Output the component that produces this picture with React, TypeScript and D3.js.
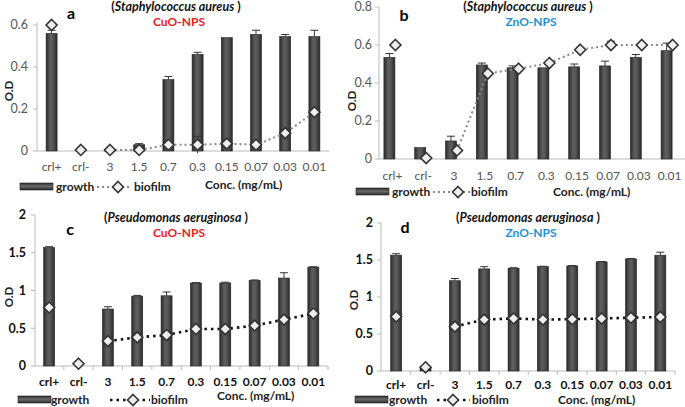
import React from "react";
import * as d3 from "d3";

const categories = ["crl+", "crl-", "3", "1.5", "0.7", "0.3", "0.15", "0.07", "0.03", "0.01"];

// Panel a: S. aureus, CuO-NPS
const aGrowth = [0.56, 0, 0.005, 0.03, 0.34, 0.46, 0.54, 0.555, 0.545, 0.545];
const aGrowthErr = [0.015, 0, 0, 0.005, 0.015, 0.01, 0.003, 0.02, 0.01, 0.03];
const aBiofilm = [0.6, 0.005, 0.005, 0.005, 0.03, 0.03, 0.035, 0.03, 0.085, 0.185];
const aBiofilmErr = [0, 0, 0, 0, 0, 0.04, 0, 0, 0.015, 0];

// Panel b: S. aureus, ZnO-NPS
const bGrowth = [0.535, 0.06, 0.095, 0.495, 0.48, 0.48, 0.485, 0.49, 0.535, 0.57];
const bGrowthErr = [0.02, 0.002, 0.025, 0.01, 0.01, 0.002, 0.015, 0.025, 0.015, 0.04];
const bBiofilm = [0.6, 0.005, 0.045, 0.45, 0.475, 0.505, 0.575, 0.6, 0.6, 0.6];
const bBiofilmErr = [0, 0, 0, 0, 0, 0, 0, 0.02, 0, 0];

// Panel c: P. aeruginosa, CuO-NPS
const cGrowth = [1.57, 0, 0.755, 0.925, 0.93, 1.1, 1.1, 1.135, 1.165, 1.31];
const cGrowthErr = [0.01, 0, 0.03, 0.01, 0.05, 0.005, 0.01, 0.005, 0.07, 0.005];
const cBiofilm = [0.775, 0.03, 0.33, 0.38, 0.41, 0.49, 0.49, 0.535, 0.615, 0.695];
const cBiofilmErr = [0, 0, 0, 0, 0, 0, 0, 0, 0, 0];

// Panel d: P. aeruginosa, ZnO-NPS
const dGrowth = [1.565, 0.04, 1.22, 1.38, 1.39, 1.41, 1.42, 1.475, 1.515, 1.565];
const dGrowthErr = [0.02, 0, 0.03, 0.03, 0.005, 0.005, 0.005, 0.005, 0.005, 0.04];
const dBiofilm = [0.735, 0.05, 0.6, 0.695, 0.71, 0.695, 0.7, 0.71, 0.72, 0.73];
const dBiofilmErr = [0, 0, 0, 0, 0, 0, 0, 0, 0, 0];

const yTicksS = [0, 0.2, 0.4, 0.6];
const yTicksB = [0, 0.2, 0.4, 0.6, 0.8];
const yTicksP = [0, 0.5, 1, 1.5, 2];

const FONT = "Lato, 'Open Sans', 'Liberation Sans', sans-serif";

type Cfg = {
  id: string;
  letter: string;
  organism: string;
  np: string;
  npColor: string;
  growth: number[];
  growthErr: number[];
  biofilm: number[];
  biofilmErr: number[];
  yMax: number;
  yTicks: number[];
  xRange: [number, number];
  axisX: number;
  yRange: [number, number];
  axisTop: number;
  barOff: number;
  dotOff: number;
  tickLabelY: number;
  tickLabelRight: number;
  boldTicks: boolean;
  lineColor: string;
  lineWidth: number;
  dash: string;
  titleX: number;
  titleY: number;
  npY: number;
  letterX: number;
  letterY: number;
  odX: number;
  odY: number;
  legY: number;
  swX: number;
  growthX: number;
  dotsX: [number, number];
  diaX: number;
  biofilmX: number;
  concX: number;
  concY: number;
  xTicks: boolean;
  fmt: (v: number) => string;
};

function Panel({ c }: { c: Cfg }) {
  const x = d3.scaleBand<string>().domain(categories).range(c.xRange).padding(0);
  const y = d3.scaleLinear().domain([0, c.yMax]).range(c.yRange);
  const bw = 11;
  const cx = (i: number) => (x(categories[i]) as number) + x.bandwidth() / 2;
  const lineIdx = d3.range(2, categories.length);
  const line = d3
    .line<number>()
    .x((i) => cx(i) + c.dotOff)
    .y((i) => y(c.biofilm[i]));
  const tickColor = c.boldTicks ? "#111" : "#555";
  const diamond = (px: number, py: number) =>
    `M${px},${py - 5.5}L${px + 5.5},${py}L${px},${py + 5.5}L${px - 5.5},${py}Z`;
  return (
    <g>
      {/* axes */}
      <line x1={c.axisX} x2={c.axisX} y1={c.axisTop} y2={c.yRange[0]} stroke="#bbb" strokeWidth={1} />
      <line x1={c.axisX} x2={c.xRange[1]} y1={c.yRange[0]} y2={c.yRange[0]} stroke="#bbb" strokeWidth={1} />
      {c.yTicks.map((t) => (
        <g key={t}>
          <line x1={c.axisX - 4} x2={c.axisX} y1={y(t)} y2={y(t)} stroke="#bbb" />
          <text
            x={c.tickLabelRight}
            y={y(t)}
            dy="0.35em"
            textAnchor="end"
            fontSize={12.5}
            fontWeight={c.boldTicks ? 700 : 400}
            fill={tickColor}
          >
            {c.fmt(t)}
          </text>
        </g>
      ))}
      {c.xTicks &&
        categories.map((k) => (
          <line
            key={k}
            x1={(x(k) as number) + x.bandwidth()}
            x2={(x(k) as number) + x.bandwidth()}
            y1={c.yRange[0]}
            y2={c.yRange[0] + 4}
            stroke="#bbb"
          />
        ))}
      {categories.map((k, i) => (
        <text
          key={k}
          x={cx(i)}
          y={c.tickLabelY}
          textAnchor="middle"
          fontSize={12}
          fontWeight={c.boldTicks ? 700 : 400}
          fill={tickColor}
        >
          {k}
        </text>
      ))}
      {/* bars */}
      {c.growth.map((v, i) =>
        v > 0 ? (
          <rect
            key={i}
            x={cx(i) + c.barOff - bw / 2}
            y={y(v)}
            width={bw}
            height={c.yRange[0] - y(v)}
            fill={`url(#barGrad)`}
            stroke="#222"
            strokeWidth={0.6}
          />
        ) : null
      )}
      {c.growth.map((v, i) =>
        c.growthErr[i] > 0.004 ? (
          <g key={i} stroke="#333" strokeWidth={1}>
            <line x1={cx(i) + c.barOff} x2={cx(i) + c.barOff} y1={y(v)} y2={y(v + c.growthErr[i])} />
            <line
              x1={cx(i) + c.barOff - 4}
              x2={cx(i) + c.barOff + 4}
              y1={y(v + c.growthErr[i])}
              y2={y(v + c.growthErr[i])}
            />
          </g>
        ) : null
      )}
      {/* biofilm line */}
      <path
        d={line(lineIdx) || ""}
        fill="none"
        stroke={c.lineColor}
        strokeWidth={c.lineWidth}
        strokeDasharray={c.dash}
      />
      {c.biofilm.map((v, i) =>
        c.biofilmErr[i] > 0 ? (
          <g key={i} stroke="#333" strokeWidth={1}>
            <line
              x1={cx(i) + c.dotOff}
              x2={cx(i) + c.dotOff}
              y1={y(v - c.biofilmErr[i])}
              y2={y(v + c.biofilmErr[i])}
            />
            <line
              x1={cx(i) + c.dotOff - 4}
              x2={cx(i) + c.dotOff + 4}
              y1={y(v + c.biofilmErr[i])}
              y2={y(v + c.biofilmErr[i])}
            />
          </g>
        ) : null
      )}
      {c.biofilm.map((v, i) => (
        <path key={i} d={diamond(cx(i) + c.dotOff, y(v))} fill="#eeeeee" stroke="#333" strokeWidth={1.6} />
      ))}
      {/* titles */}
      <text x={c.titleX} y={c.titleY} textAnchor="middle" fontSize={12.5} fontWeight={700} fill="#111">
        (<tspan fontStyle="italic">{c.organism}</tspan> )
      </text>
      <text x={c.titleX + 3} y={c.npY} textAnchor="middle" fontSize={12} fontWeight={700} fill={c.npColor}>
        {c.np}
      </text>
      <text x={c.letterX} y={c.letterY} textAnchor="middle" fontSize={16} fontWeight={700} fill="#000">
        {c.letter}
      </text>
      <text
        transform={`translate(${c.odX},${c.odY}) rotate(-90)`}
        textAnchor="middle"
        fontSize={11.5}
        fontWeight={700}
        fill="#222"
      >
        O.D
      </text>
      {/* legend */}
      <rect x={c.swX} y={c.legY - 4} width={33} height={7} fill="url(#legGrad)" stroke="#222" strokeWidth={0.6} />
      <text x={c.growthX} y={c.legY} dy="0.35em" fontSize={12} fontWeight={700} fill="#222">
        growth
      </text>
      <line
        x1={c.dotsX[0]}
        x2={c.dotsX[1]}
        y1={c.legY}
        y2={c.legY}
        stroke={c.lineColor}
        strokeWidth={c.lineWidth}
        strokeDasharray={c.dash}
      />
      <path d={diamond(c.diaX, c.legY)} fill="#eeeeee" stroke="#333" strokeWidth={1.6} />
      <text x={c.biofilmX} y={c.legY} dy="0.35em" fontSize={12} fontWeight={700} fill="#222">
        biofilm
      </text>
      <text x={c.concX} y={c.concY} dy="0.35em" fontSize={12} fontWeight={700} fill="#222">
        Conc. (mg/mL)
      </text>
    </g>
  );
}

const fmtS = (v: number) => (v === 0 ? "0" : d3.format(".1f")(v));
const fmtP = (v: number) => String(v);

const panels: Cfg[] = [
  {
    id: "a", letter: "a", organism: "Staphylococcus aureus", np: "CuO-NPS", npColor: "#ee1c1c",
    growth: aGrowth, growthErr: aGrowthErr, biofilm: aBiofilm, biofilmErr: aBiofilmErr,
    yMax: 0.6, yTicks: yTicksS, xRange: [37, 329], axisX: 37, yRange: [151, 25], axisTop: 22,
    barOff: 0, dotOff: 0, tickLabelY: 171, tickLabelRight: 28, boldTicks: false,
    lineColor: "#8a8a8a", lineWidth: 2, dash: "2,3",
    titleX: 176, titleY: 11, npY: 26, letterX: 71, letterY: 19, odX: 13, odY: 91,
    legY: 187, swX: 20, growthX: 56, dotsX: [97, 131], diaX: 118, biofilmX: 134, concX: 205, concY: 185,
    xTicks: false, fmt: fmtS,
  },
  {
    id: "b", letter: "b", organism: "Staphylococcus aureus", np: "ZnO-NPS", npColor: "#1e8fd6",
    growth: bGrowth, growthErr: bGrowthErr, biofilm: bBiofilm, biofilmErr: bBiofilmErr,
    yMax: 0.8, yTicks: yTicksB, xRange: [377, 685], axisX: 379, yRange: [159, 7], axisTop: 7,
    barOff: -3, dotOff: 3, tickLabelY: 180, tickLabelRight: 372, boldTicks: false,
    lineColor: "#8a8a8a", lineWidth: 2, dash: "2,3",
    titleX: 528, titleY: 11, npY: 26, letterX: 404, letterY: 21, odX: 356, odY: 101,
    legY: 192, swX: 356, growthX: 392, dotsX: [433, 470], diaX: 458, biofilmX: 471, concX: 553, concY: 192,
    xTicks: false, fmt: fmtS,
  },
  {
    id: "c", letter: "c", organism: "Pseudomonas aeruginosa", np: "CuO-NPS", npColor: "#ee1c1c",
    growth: cGrowth, growthErr: cGrowthErr, biofilm: cBiofilm, biofilmErr: cBiofilmErr,
    yMax: 2, yTicks: yTicksP, xRange: [34.5, 328], axisX: 35, yRange: [366, 215], axisTop: 215,
    barOff: 0, dotOff: 0, tickLabelY: 386, tickLabelRight: 26, boldTicks: true,
    lineColor: "#111", lineWidth: 2.6, dash: "2.5,4",
    titleX: 176, titleY: 222, npY: 237, letterX: 70, letterY: 235, odX: 13, odY: 297,
    legY: 400, swX: 18, growthX: 51, dotsX: [110, 150], diaX: 133, biofilmX: 151, concX: 217, concY: 396,
    xTicks: true, fmt: fmtP,
  },
  {
    id: "d", letter: "d", organism: "Pseudomonas aeruginosa", np: "ZnO-NPS", npColor: "#1e8fd6",
    growth: dGrowth, growthErr: dGrowthErr, biofilm: dBiofilm, biofilmErr: dBiofilmErr,
    yMax: 2, yTicks: yTicksP, xRange: [381.5, 675], axisX: 381, yRange: [371, 223], axisTop: 223,
    barOff: 0, dotOff: 0, tickLabelY: 389, tickLabelRight: 373, boldTicks: true,
    lineColor: "#111", lineWidth: 2.6, dash: "2.5,4",
    titleX: 528, titleY: 222, npY: 237, letterX: 405, letterY: 233, odX: 358, odY: 300,
    legY: 400, swX: 355, growthX: 389, dotsX: [437, 470], diaX: 453, biofilmX: 472, concX: 558, concY: 400,
    xTicks: true, fmt: fmtP,
  },
];

export default function App() {
  return (
    <svg width={685} height={407} style={{ position: "absolute", left: 0, top: 0, fontFamily: FONT }}>
      <defs>
        <linearGradient id="barGrad" x1="0" x2="1" y1="0" y2="0">
          <stop offset="0" stopColor="#2b2b2b" />
          <stop offset="0.4" stopColor="#5e5e5e" />
          <stop offset="0.6" stopColor="#585858" />
          <stop offset="1" stopColor="#2b2b2b" />
        </linearGradient>
        <linearGradient id="legGrad" x1="0" x2="0" y1="0" y2="1">
          <stop offset="0" stopColor="#2b2b2b" />
          <stop offset="0.45" stopColor="#6a6a6a" />
          <stop offset="1" stopColor="#2b2b2b" />
        </linearGradient>
      </defs>
      <rect width={685} height={407} fill="#fff" />
      {panels.map((p) => (
        <Panel key={p.id} c={p} />
      ))}
    </svg>
  );
}
